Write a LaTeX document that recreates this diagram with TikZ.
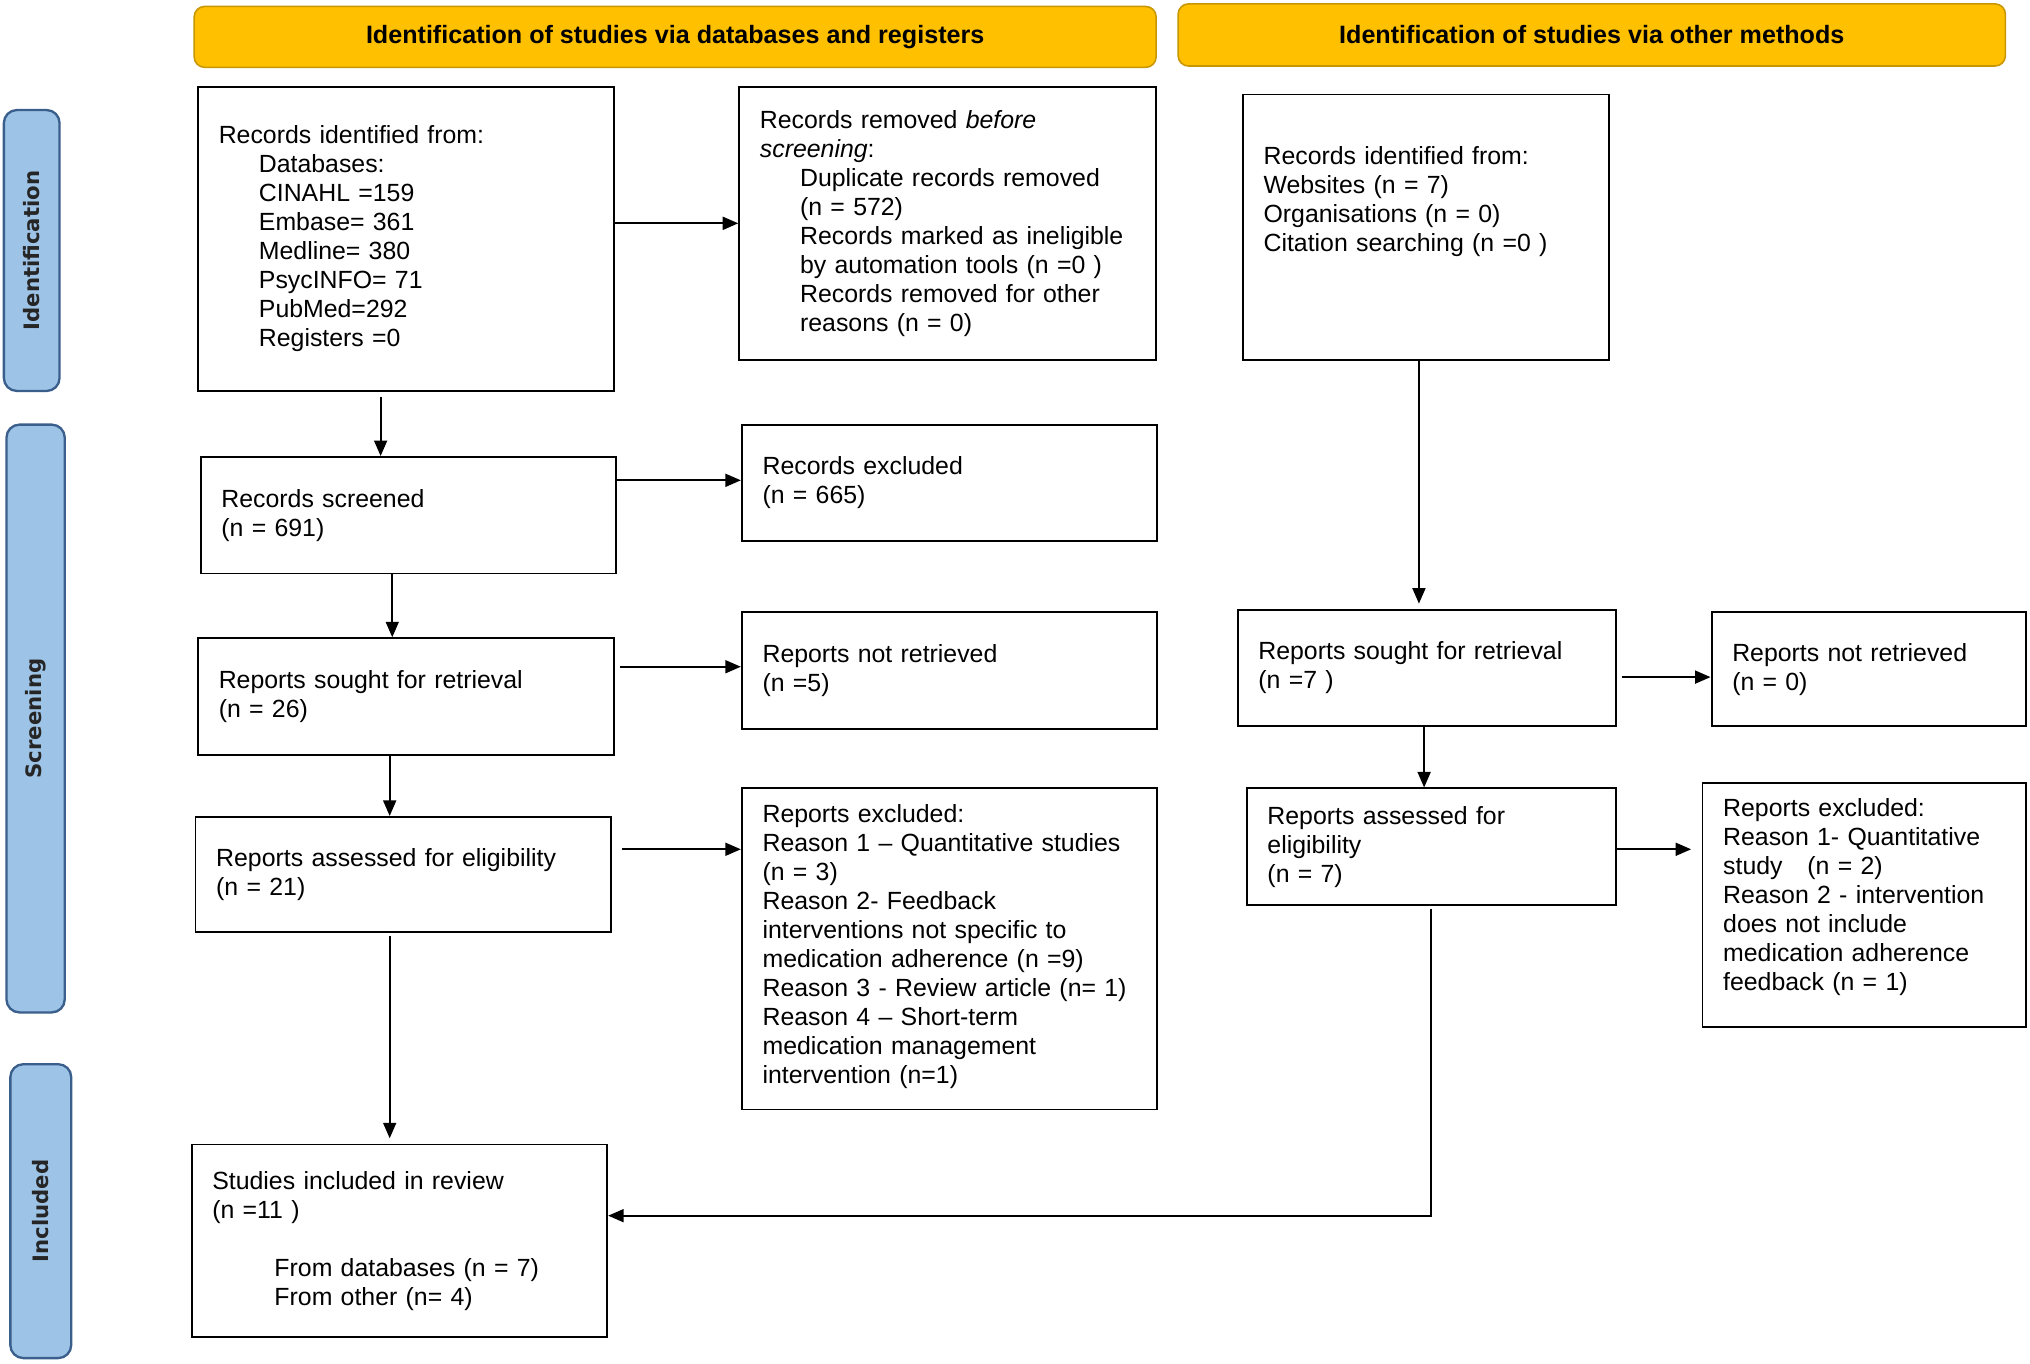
\documentclass[tikz,border=0pt]{standalone}
\usepackage{fontspec}
\setmainfont{Liberation Sans}
\newfontfamily\lblfont{DejaVu Sans}
\usetikzlibrary{arrows.meta}
\definecolor{gold}{HTML}{FFC000}
\definecolor{golddark}{HTML}{C89600}
\definecolor{lblue}{HTML}{9DC3E6}
\definecolor{dblue}{HTML}{3B5F8C}
\tikzset{
  box/.style={draw, line width=0.75pt, inner xsep=8pt, inner ysep=0pt, align=left,
    font=\fontsize{9.6}{11.2}\selectfont},
  hdr/.style={draw=golddark, fill=gold, line width=0.6pt, rounded corners=4pt,
    font=\fontsize{9.7}{11.2}\selectfont\bfseries},
  side/.style={draw=dblue, fill=lblue, line width=0.9pt, rounded corners=5pt, rotate=90,
    font=\lblfont\fontsize{8.2}{10}\selectfont\bfseries, text=black!85},
  arr/.style={line width=0.75pt, -{Triangle[length=6pt,width=5pt]}},
  ln/.style={line width=0.75pt}
}
\newcommand{\ind}{\hspace*{15.5pt}}
\begin{document}
\begin{tikzpicture}[x=0.5pt,y=-0.5pt]
\useasboundingbox (0,0) rectangle (1568,1053);
% headers
\node[hdr, minimum width=371.5pt, minimum height=23.5pt] (h1) at (521.5,28.5) {Identification of studies via databases and registers};
\node[hdr, minimum width=319.5pt, minimum height=24pt] (h2) at (1229.5,27) {Identification of studies via other methods};
% side labels
\node[side, minimum width=108.5pt, minimum height=21.5pt] (s1) at (24.5,193.5) {Identification};
\node[side, minimum width=227pt, minimum height=22.5pt] (s2) at (27.5,555) {Screening};
\node[side, minimum width=113.5pt, minimum height=23.5pt] (s3) at (31.5,935.5) {Included};
% left column
\node[box, minimum width=160.5pt, minimum height=117.5pt, text width=144.5pt] (b1) at (313.5,184.5)
 {Records identified from:\\ \ind Databases:\\ \ind CINAHL =159\\ \ind Embase= 361\\ \ind Medline= 380\\ \ind PsycINFO= 71\\ \ind PubMed=292\\ \ind Registers =0};
\node[box, minimum width=161pt, minimum height=105.5pt, text width=145pt] (b2) at (732,172.5)
 {Records removed \textit{before}\\ \textit{screening}:\\ \ind Duplicate records removed\\ \ind (n = 572)\\ \ind Records marked as ineligible\\ \ind by automation tools (n =0 )\\ \ind Records removed for other\\ \ind reasons (n = 0)};
\node[box, minimum width=160.5pt, minimum height=45pt, text width=144.5pt] (b3) at (315.5,398)
 {Records screened\\ (n = 691)};
\node[box, minimum width=160.5pt, minimum height=45pt, text width=144.5pt] (b4) at (733.5,373)
 {Records excluded\\ (n = 665)};
\node[box, minimum width=160.5pt, minimum height=45pt, text width=144.5pt] (b5) at (313.5,538)
 {Reports sought for retrieval\\ (n = 26)};
\node[box, minimum width=160.5pt, minimum height=45pt, text width=144.5pt] (b6) at (733.5,518)
 {Reports not retrieved\\ (n =5)};
\node[box, minimum width=160.5pt, minimum height=44.5pt, text width=144.5pt] (b7) at (311.5,675.5)
 {Reports assessed for eligibility\\ (n = 21)};
\node[box, minimum width=160.5pt, minimum height=124pt, text width=144.5pt] (b8) at (733.5,733)
 {Reports excluded:\\ Reason 1 -- Quantitative studies\\ (n = 3)\\ Reason 2- Feedback\\ interventions not specific to\\ medication adherence (n =9)\\ Reason 3 - Review article (n= 1)\\ Reason 4 -- Short-term\\ medication management\\ intervention (n=1)\vrule width0pt height0pt depth4pt};
\node[box, minimum width=160.5pt, minimum height=74.5pt, text width=144.5pt] (b9) at (308.5,958.5)
 {Studies included in review\\ (n =11 )\\[11.2pt] \hspace*{24pt}From databases (n = 7)\\ \hspace*{24pt}From other (n= 4)};
% right column
\node[box, minimum width=141.5pt, minimum height=102.5pt, text width=125.5pt] (c1) at (1101.5,175.5)
 {Records identified from:\\ Websites (n = 7)\\ Organisations (n = 0)\\ Citation searching (n =0 )\vrule width0pt height0pt depth22pt};
\node[box, minimum width=146pt, minimum height=45pt, text width=130pt] (c2) at (1102,516)
 {Reports sought for retrieval\\ (n =7 )};
\node[box, minimum width=121.5pt, minimum height=44pt, text width=105.5pt] (c3) at (1443.5,517)
 {Reports not retrieved\\ (n = 0)};
\node[box, minimum width=142.5pt, minimum height=45pt, text width=126.5pt] (c4) at (1105.5,654)
 {Reports assessed for\\ eligibility\\ (n = 7)};
\node[box, minimum width=125pt, minimum height=94pt, text width=109pt] (c5) at (1440,699)
 {Reports excluded:\\ Reason 1- Quantitative\\ study \ \ (n = 2)\\ Reason 2 - intervention\\ does not include\\ medication adherence\\ feedback (n = 1)\vrule width0pt height0pt depth8pt};
% connectors
\draw[arr] (b1.east |- b2.west) -- (b2.west);
\coordinate (p1) at ([xshift=-9.75pt,yshift=-2pt]b1.south);
\draw[arr] (p1) -- (p1 |- b3.north);
\draw[arr] ([yshift=1pt]b3.east |- b4.west) -- ([yshift=1pt]b4.west);
\coordinate (p2) at ([xshift=-6.25pt]b3.south);
\draw[arr] (p2) -- (p2 |- b5.north);
\coordinate (p3) at ([xshift=2pt,yshift=1.5pt]b5.east |- b6.west);
\draw[arr] (p3) -- (p3 -| b6.west);
\coordinate (p4) at ([xshift=-6.25pt]b5.south);
\draw[arr] (p4) -- (p4 |- b7.north);
\coordinate (p5) at ([xshift=4pt,yshift=9.75pt]b7.east);
\draw[arr] (p5) -- (p5 -| b8.west);
\coordinate (p6) at ([xshift=-5.25pt,yshift=-1pt]b7.south);
\coordinate (p7) at ([yshift=2pt]p6 |- b9.north);
\draw[arr] (p6) -- (p7);
\coordinate (q1) at ([xshift=-2.75pt]c1.south);
\draw[arr] (q1) -- ([yshift=2pt]q1 |- c2.north);
\coordinate (q2) at ([xshift=2pt,yshift=-3.5pt]c2.east);
\draw[arr] (q2) -- (q2 -| c3.west);
\coordinate (q3) at ([xshift=-1pt]c2.south);
\draw[arr] (q3) -- (q3 |- c4.north);
\coordinate (q4) at ([yshift=-1pt]c4.east);
\coordinate (q5) at ([xshift=-4pt]q4 -| c5.west);
\draw[arr] (q4) -- (q5);
\coordinate (m) at ([yshift=9.75pt]b9.east);
\draw[arr] ([yshift=-1pt]c4.south) |- (m);
\end{tikzpicture}
\end{document}
